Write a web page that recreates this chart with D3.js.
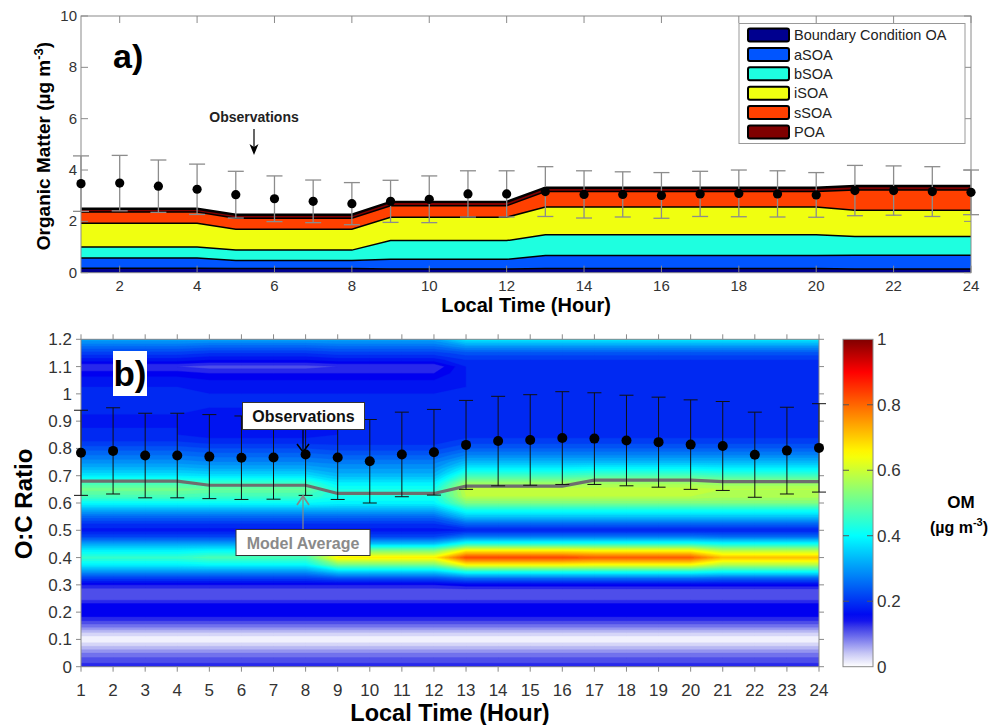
<!DOCTYPE html>
<html>
<head>
<meta charset="utf-8">
<script src="https://cdn.jsdelivr.net/npm/d3@7"></script>
<style>
  body { margin: 0; background: #fff; }
  svg { display: block; }
  text { font-family: "Liberation Sans", Arial, sans-serif; }
</style>
</head>
<body>
<svg id="chart" width="996" height="725"></svg>
<script>
// ---------- data ----------
const hours = [1,2,3,4,5,6,7,8,9,10,11,12,13,14,15,16,17,18,19,20,21,22,23,24];

// Panel a: modelled organic matter components (µg m-3) per hour
const componentNames = ["Boundary Condition OA", "aSOA", "bSOA", "iSOA", "sSOA", "POA"];
const bcOA = [0.17,0.17,0.17,0.17, 0.16,0.16,0.16,0.16, 0.14,0.14,0.14,0.14, 0.16,0.16,0.16,0.16, 0.16,0.16,0.16,0.16, 0.14,0.14,0.14,0.14];
const aSOA = [0.40,0.40,0.40,0.40, 0.32,0.32,0.32,0.32, 0.38,0.38,0.38,0.38, 0.51,0.51,0.51,0.51, 0.51,0.51,0.51,0.51, 0.54,0.54,0.54,0.54];
const bSOA = [0.43,0.43,0.43,0.43, 0.40,0.40,0.40,0.40, 0.73,0.73,0.73,0.73, 0.81,0.81,0.81,0.81, 0.81,0.81,0.81,0.81, 0.73,0.73,0.73,0.73];
const iSOA = [0.93,0.93,0.93,0.93, 0.81,0.81,0.81,0.81, 0.91,0.91,0.91,0.91, 1.08,1.08,1.08,1.08, 1.08,1.08,1.08,1.08, 1.02,1.02,1.02,1.02];
const sSOA = [0.43,0.43,0.43,0.43, 0.43,0.43,0.43,0.43, 0.45,0.45,0.45,0.45, 0.60,0.60,0.60,0.60, 0.60,0.60,0.60,0.60, 0.79,0.79,0.79,0.79];
const poa  = [0.13,0.13,0.13,0.13, 0.14,0.14,0.14,0.14, 0.15,0.15,0.15,0.15, 0.15,0.15,0.15,0.15, 0.15,0.15,0.15,0.15, 0.16,0.16,0.16,0.16];
const componentColors = ["#00008f", "#0055ff", "#1effe0", "#f0ff10", "#ff4000", "#7f0000"];

// Panel a: observed organic matter, mean and standard deviation
const omObsMean = [3.47,3.49,3.37,3.25,3.04,2.88,2.78,2.69,2.78,2.86,3.07,3.07,3.16,3.05,3.05,3.01,3.07,3.09,3.07,3.03,3.20,3.20,3.16,3.13];
const omObsSd   = [1.08,1.08,1.02,0.98,0.91,0.89,0.83,0.82,0.82,0.91,0.90,0.90,0.97,0.92,0.88,0.89,0.88,0.91,0.90,0.87,0.98,0.96,0.97,0.87];

// Panel b: observed O:C ratio, mean and standard deviation
const ocObsMean = [0.784,0.791,0.774,0.774,0.770,0.766,0.767,0.778,0.767,0.753,0.778,0.786,0.813,0.827,0.831,0.838,0.836,0.829,0.823,0.814,0.809,0.777,0.792,0.802];
const ocObsSd   = [0.156,0.158,0.155,0.155,0.154,0.153,0.153,0.150,0.154,0.153,0.155,0.157,0.163,0.164,0.166,0.170,0.168,0.166,0.165,0.164,0.163,0.156,0.159,0.162];

// Panel b: model average O:C ratio
const ocModelAvg = [0.680,0.680,0.680,0.680,0.665,0.665,0.665,0.665,0.635,0.635,0.635,0.635,0.662,0.662,0.662,0.662,0.684,0.684,0.684,0.684,0.678,0.678,0.678,0.678];

// Panel b: OM distribution over O:C (rows every 0.025 from 0 to 1.2), one profile per 4-hour model block
const ocStep = 0.025;
const hourBlock = [0,0,0,0,1,1,1,1,2,2,2,2,3,3,3,3,4,4,4,4,5,5,5,5];
const omH01to04 = [0.13,0.11,0.08,0.04,0.00,0.04,0.09,0.13,0.16,0.15,0.11,0.10,0.14,0.21,0.30,0.39,0.45,0.39,0.31,0.22,0.17,0.20,0.25,0.32,0.40,0.47,0.51,0.46,0.38,0.33,0.29,0.26,0.23,0.20,0.18,0.18,0.17,0.18,0.19,0.19,0.18,0.18,0.17,0.15,0.12,0.17,0.21,0.26,0.31];
const omH05to08 = [0.13,0.11,0.08,0.04,0.00,0.04,0.09,0.13,0.16,0.15,0.11,0.10,0.14,0.21,0.30,0.40,0.47,0.40,0.31,0.22,0.17,0.20,0.25,0.32,0.40,0.46,0.50,0.45,0.37,0.32,0.28,0.25,0.22,0.19,0.17,0.17,0.16,0.17,0.18,0.18,0.18,0.17,0.16,0.14,0.11,0.16,0.20,0.25,0.31];
const omH09to12 = [0.13,0.11,0.08,0.04,0.00,0.04,0.09,0.13,0.16,0.15,0.11,0.10,0.14,0.23,0.36,0.52,0.66,0.52,0.34,0.22,0.17,0.20,0.25,0.32,0.39,0.42,0.42,0.38,0.33,0.30,0.27,0.24,0.21,0.19,0.18,0.18,0.18,0.18,0.19,0.19,0.18,0.17,0.16,0.14,0.12,0.17,0.21,0.26,0.31];
const omH13to16 = [0.13,0.11,0.08,0.04,0.00,0.04,0.09,0.13,0.16,0.15,0.11,0.10,0.15,0.26,0.43,0.66,0.83,0.66,0.43,0.27,0.18,0.25,0.34,0.42,0.52,0.58,0.59,0.54,0.46,0.39,0.33,0.28,0.24,0.21,0.19,0.18,0.18,0.18,0.19,0.19,0.18,0.18,0.18,0.18,0.18,0.20,0.23,0.30,0.38];
const omH17to20 = [0.13,0.11,0.08,0.04,0.00,0.04,0.09,0.13,0.16,0.15,0.11,0.10,0.15,0.26,0.43,0.65,0.81,0.65,0.43,0.27,0.18,0.25,0.34,0.42,0.52,0.58,0.59,0.55,0.47,0.40,0.33,0.28,0.24,0.21,0.19,0.18,0.18,0.18,0.19,0.19,0.18,0.18,0.18,0.18,0.18,0.20,0.23,0.30,0.38];
const omH21to24 = [0.13,0.11,0.08,0.04,0.00,0.04,0.09,0.13,0.16,0.15,0.11,0.10,0.15,0.25,0.41,0.58,0.71,0.58,0.41,0.26,0.18,0.25,0.34,0.42,0.52,0.57,0.58,0.54,0.46,0.39,0.33,0.28,0.24,0.21,0.19,0.18,0.18,0.18,0.19,0.19,0.18,0.18,0.18,0.18,0.18,0.20,0.23,0.30,0.38];
const omProfiles = [omH01to04, omH05to08, omH09to12, omH13to16, omH17to20, omH21to24];

// Axis tick labels
const omTicks = [0,2,4,6,8,10];
const hourTicksA = [2,4,6,8,10,12,14,16,18,20,22,24];
const ocTicks = [0,0.1,0.2,0.3,0.4,0.5,0.6,0.7,0.8,0.9,1,1.1,1.2];
const cbTicks = [0,0.2,0.4,0.6,0.8,1];

// ---------- drawing ----------
const svg = d3.select("#chart");
const frameColor = "#8a8a8a";
const labelColor = "#333";

// ===== Panel a =====
const xA = d3.scaleLinear().domain([1,24]).range([81,971]);
const yA = d3.scaleLinear().domain([0,10]).range([272.7,16]);
const gA = svg.append("g");

const stackRows = hours.map((h,i) => ({
  hour: h, c0: bcOA[i], c1: aSOA[i], c2: bSOA[i], c3: iSOA[i], c4: sSOA[i], c5: poa[i]
}));
const keys = ["c0","c1","c2","c3","c4","c5"];
const series = d3.stack().keys(keys)(stackRows);
const area = d3.area().x(d => xA(d.data.hour)).y0(d => yA(d[0])).y1(d => yA(d[1]));
const topLine = d3.line().x(d => xA(d.data.hour)).y(d => yA(d[1]));

gA.selectAll("path.layer").data(series).join("path")
  .attr("class","layer")
  .attr("d", area)
  .attr("fill", (d,i) => componentColors[i]);
gA.selectAll("path.edge").data(series).join("path")
  .attr("class","edge")
  .attr("d", topLine)
  .attr("fill","none")
  .attr("stroke","#000")
  .attr("stroke-width", (d,i) => i === series.length-1 ? 2.4 : 1.5);

// frame and inward ticks
gA.append("rect").attr("x",81).attr("y",16).attr("width",890).attr("height",256.7)
  .attr("fill","none").attr("stroke",frameColor).attr("stroke-width",1);
const tickLen = 7;
hourTicksA.forEach(t => {
  gA.append("line").attr("x1",xA(t)).attr("x2",xA(t)).attr("y1",16).attr("y2",16+tickLen).attr("stroke",frameColor);
  gA.append("line").attr("x1",xA(t)).attr("x2",xA(t)).attr("y1",272.7).attr("y2",272.7-tickLen).attr("stroke",frameColor);
  gA.append("text").attr("x",xA(t)).attr("y",290.5).attr("text-anchor","middle")
    .attr("font-size",15).attr("fill",labelColor).text(t);
});
omTicks.forEach(t => {
  gA.append("line").attr("x1",81).attr("x2",81+tickLen).attr("y1",yA(t)).attr("y2",yA(t)).attr("stroke",frameColor);
  gA.append("line").attr("x1",971).attr("x2",971-tickLen).attr("y1",yA(t)).attr("y2",yA(t)).attr("stroke",frameColor);
  gA.append("text").attr("x",77).attr("y",yA(t)+5).attr("text-anchor","end")
    .attr("font-size",15).attr("fill",labelColor).text(t);
});

// observations with error bars
const capA = 8;
hours.forEach((h,i) => {
  const x = xA(h), lo = yA(omObsMean[i]-omObsSd[i]), hi = yA(omObsMean[i]+omObsSd[i]);
  gA.append("line").attr("x1",x).attr("x2",x).attr("y1",lo).attr("y2",hi).attr("stroke","#8c8c8c").attr("stroke-width",1.3);
  gA.append("line").attr("x1",x-capA).attr("x2",x+capA).attr("y1",lo).attr("y2",lo).attr("stroke","#8c8c8c").attr("stroke-width",1.3);
  gA.append("line").attr("x1",x-capA).attr("x2",x+capA).attr("y1",hi).attr("y2",hi).attr("stroke","#8c8c8c").attr("stroke-width",1.3);
});
gA.selectAll("circle.obs").data(hours).join("circle").attr("class","obs")
  .attr("cx", h => xA(h)).attr("cy", (h,i) => yA(omObsMean[i])).attr("r",4.6).attr("fill","#000");

// legend
const lg = gA.append("g");
lg.append("rect").attr("x",739).attr("y",23.5).attr("width",226).attr("height",120)
  .attr("fill","#fff").attr("stroke","#999").attr("stroke-width",1);
componentNames.forEach((name,i) => {
  const cy = 35 + i*19.4;
  lg.append("rect").attr("x",748).attr("y",cy-6.5).attr("width",41).attr("height",13).attr("rx",2)
    .attr("fill",componentColors[i]).attr("stroke","#000").attr("stroke-width",2);
  lg.append("text").attr("x",794).attr("y",cy+5.2).attr("font-size",14.5).attr("fill","#222").text(name);
});

// annotation
gA.append("text").attr("x",254).attr("y",122).attr("text-anchor","middle")
  .attr("font-size",14).attr("font-weight","bold").attr("fill","#222").text("Observations");
gA.append("line").attr("x1",254).attr("x2",254).attr("y1",129).attr("y2",152).attr("stroke","#000").attr("stroke-width",1.2);
gA.append("path").attr("d","M249.5,144 L254,155 L258.5,144 L254,147 Z").attr("fill","#000");
gA.append("text").attr("x",113).attr("y",68).attr("font-size",34).attr("font-weight","bold").attr("fill","#000").text("a)");

// axis titles
gA.append("text").attr("x",526).attr("y",311.5).attr("text-anchor","middle")
  .attr("font-size",20).attr("font-weight","bold").attr("fill","#000").text("Local Time (Hour)");
const ylabA = gA.append("text").attr("transform","translate(50,146) rotate(-90)").attr("text-anchor","middle")
  .attr("font-size",19).attr("font-weight","bold").attr("fill","#000");
ylabA.append("tspan").text("Organic Matter (\u00b5g m");
ylabA.append("tspan").attr("dy",-7).attr("font-size",13).text("-3");
ylabA.append("tspan").attr("dy",7).text(")");

// ===== Panel b =====
const xB = d3.scaleLinear().domain([1,24]).range([81,819]);
const yB = d3.scaleLinear().domain([0,1.2]).range([666.7,339.3]);
const gB = svg.append("g");

// white-to-jet colour map
const color = d3.scaleLinear()
  .domain([0,0.04,0.08,0.12,0.15,0.4,0.525,0.65,0.775,0.9,1])
  .range(["#ffffff","#c8c8f5","#8282ee","#3c3ce8","#0000f0","#00ffff","#80ff80","#ffff00","#ff8000","#ff0000","#800000"])
  .clamp(true);

// grid for contouring: columns = hours, rows = O:C levels
const nCols = hours.length, nRows = omH01to04.length;
const grid = new Array(nCols*nRows);
for (let j = 0; j < nRows; j++) {
  for (let i = 0; i < nCols; i++) {
    grid[i + j*nCols] = omProfiles[hourBlock[i]][j];
  }
}
const levelStep = 0.02;
const thresholds = d3.range(0, 1.0, levelStep);
const contours = d3.contours().size([nCols, nRows]).thresholds(thresholds)(grid);
const gridProj = d3.geoTransform({
  point(px, py) { this.stream.point(xB(px + 0.5), yB((py - 0.5) * ocStep)); }
});
const gPath = d3.geoPath(gridProj);

svg.append("defs").append("clipPath").attr("id","clipB")
  .append("rect").attr("x",81).attr("y",339.3).attr("width",738).attr("height",327.4);

gB.append("g").attr("clip-path","url(#clipB)")
  .selectAll("path").data(contours).join("path")
  .attr("d", gPath)
  .attr("fill", d => color(d.value + levelStep/2))
  .attr("stroke", d => color(d.value + levelStep/2))
  .attr("stroke-width", 0.4);

// frame and outward ticks
gB.append("rect").attr("x",81).attr("y",339.3).attr("width",738).attr("height",327.4)
  .attr("fill","none").attr("stroke",frameColor).attr("stroke-width",1);
const tb = 5;
hours.forEach(t => {
  gB.append("line").attr("x1",xB(t)).attr("x2",xB(t)).attr("y1",666.7).attr("y2",666.7+tb).attr("stroke",frameColor);
  gB.append("line").attr("x1",xB(t)).attr("x2",xB(t)).attr("y1",339.3).attr("y2",339.3-tb).attr("stroke",frameColor);
  gB.append("text").attr("x",xB(t)).attr("y",696).attr("text-anchor","middle")
    .attr("font-size",17).attr("fill",labelColor).text(t);
});
ocTicks.forEach(t => {
  gB.append("line").attr("x1",81).attr("x2",81-tb).attr("y1",yB(t)).attr("y2",yB(t)).attr("stroke",frameColor);
  gB.append("line").attr("x1",819).attr("x2",819+tb).attr("y1",yB(t)).attr("y2",yB(t)).attr("stroke",frameColor);
  gB.append("text").attr("x",72).attr("y",yB(t)+6).attr("text-anchor","end")
    .attr("font-size",17).attr("fill",labelColor).text(t);
});

// model average line
gB.append("path").datum(hours)
  .attr("d", d3.line().x(h => xB(h)).y((h,i) => yB(ocModelAvg[i])))
  .attr("fill","none").attr("stroke","#6e6e6e").attr("stroke-width",3.2);

// observations
const capB = 7;
hours.forEach((h,i) => {
  const x = xB(h), lo = yB(ocObsMean[i]-ocObsSd[i]), hi = yB(ocObsMean[i]+ocObsSd[i]);
  gB.append("line").attr("x1",x).attr("x2",x).attr("y1",lo).attr("y2",hi).attr("stroke","#111").attr("stroke-width",1);
  gB.append("line").attr("x1",x-capB).attr("x2",x+capB).attr("y1",lo).attr("y2",lo).attr("stroke","#111").attr("stroke-width",1);
  gB.append("line").attr("x1",x-capB).attr("x2",x+capB).attr("y1",hi).attr("y2",hi).attr("stroke","#111").attr("stroke-width",1);
});
gB.selectAll("circle.obs").data(hours).join("circle").attr("class","obs")
  .attr("cx", h => xB(h)).attr("cy", (h,i) => yB(ocObsMean[i])).attr("r",5).attr("fill","#000");

// annotations
gB.append("line").attr("x1",303).attr("x2",303).attr("y1",429).attr("y2",451).attr("stroke","#000").attr("stroke-width",1.2);
gB.append("path").attr("d","M297,444 L303,452 L309,444").attr("fill","none").attr("stroke","#000").attr("stroke-width",1.6);
gB.append("rect").attr("x",242.5).attr("y",402.5).attr("width",122).attr("height",27)
  .attr("fill","#fff").attr("stroke","#333").attr("stroke-width",1);
gB.append("text").attr("x",303.5).attr("y",422).attr("text-anchor","middle")
  .attr("font-size",16).attr("font-weight","bold").attr("fill","#111").text("Observations");

gB.append("line").attr("x1",303).attr("x2",303).attr("y1",529).attr("y2",497).attr("stroke","#888").attr("stroke-width",1.2);
gB.append("path").attr("d","M297,505 L303,496 L309,505").attr("fill","none").attr("stroke","#888").attr("stroke-width",1.8);
gB.append("rect").attr("x",236).attr("y",529.5).attr("width",134).attr("height",26)
  .attr("fill","#fff").attr("stroke","#333").attr("stroke-width",1);
gB.append("text").attr("x",303).attr("y",548.5).attr("text-anchor","middle")
  .attr("font-size",16).attr("font-weight","bold").attr("fill","#8a8a8a").text("Model Average");

gB.append("rect").attr("x",113).attr("y",351).attr("width",34).attr("height",45).attr("fill","#fff");
gB.append("text").attr("x",130).attr("y",386).attr("text-anchor","middle")
  .attr("font-size",35).attr("font-weight","bold").attr("fill","#000").text("b)");

// axis titles
gB.append("text").attr("x",450).attr("y",721).attr("text-anchor","middle")
  .attr("font-size",23.5).attr("font-weight","bold").attr("fill","#000").text("Local Time (Hour)");
gB.append("text").attr("transform","translate(32,504) rotate(-90)").attr("text-anchor","middle")
  .attr("font-size",24).attr("font-weight","bold").attr("fill","#000").text("O:C Ratio");

// ===== Colorbar =====
const cbY = d3.scaleLinear().domain([0,1]).range([666.7,339.3]);
const grad = svg.select("defs").append("linearGradient").attr("id","cbGrad")
  .attr("x1",0).attr("y1",1).attr("x2",0).attr("y2",0);
d3.range(0, 1.0001, 0.02).forEach(v => {
  grad.append("stop").attr("offset", v).attr("stop-color", color(v));
});
const gC = svg.append("g");
gC.append("rect").attr("x",843).attr("y",339.3).attr("width",30).attr("height",327.4)
  .attr("fill","url(#cbGrad)").attr("stroke",frameColor).attr("stroke-width",1);
cbTicks.forEach(t => {
  if (t > 0 && t < 1) {
    gC.append("line").attr("x1",843).attr("x2",849).attr("y1",cbY(t)).attr("y2",cbY(t)).attr("stroke","#555").attr("stroke-width",1);
    gC.append("line").attr("x1",867).attr("x2",873).attr("y1",cbY(t)).attr("y2",cbY(t)).attr("stroke","#555").attr("stroke-width",1);
  }
  gC.append("text").attr("x",877).attr("y",cbY(t)+6).attr("font-size",17).attr("fill",labelColor).text(t);
});
gC.append("text").attr("x",961).attr("y",508).attr("text-anchor","middle")
  .attr("font-size",17).attr("font-weight","bold").attr("fill","#000").text("OM");
const cbUnit = gC.append("text").attr("x",959).attr("y",533).attr("text-anchor","middle")
  .attr("font-size",16).attr("font-weight","bold").attr("fill","#000");
cbUnit.append("tspan").text("(\u00b5g m");
cbUnit.append("tspan").attr("dy",-7).attr("font-size",11).text("-3");
cbUnit.append("tspan").attr("dy",7).text(")");
</script>
</body>
</html>
